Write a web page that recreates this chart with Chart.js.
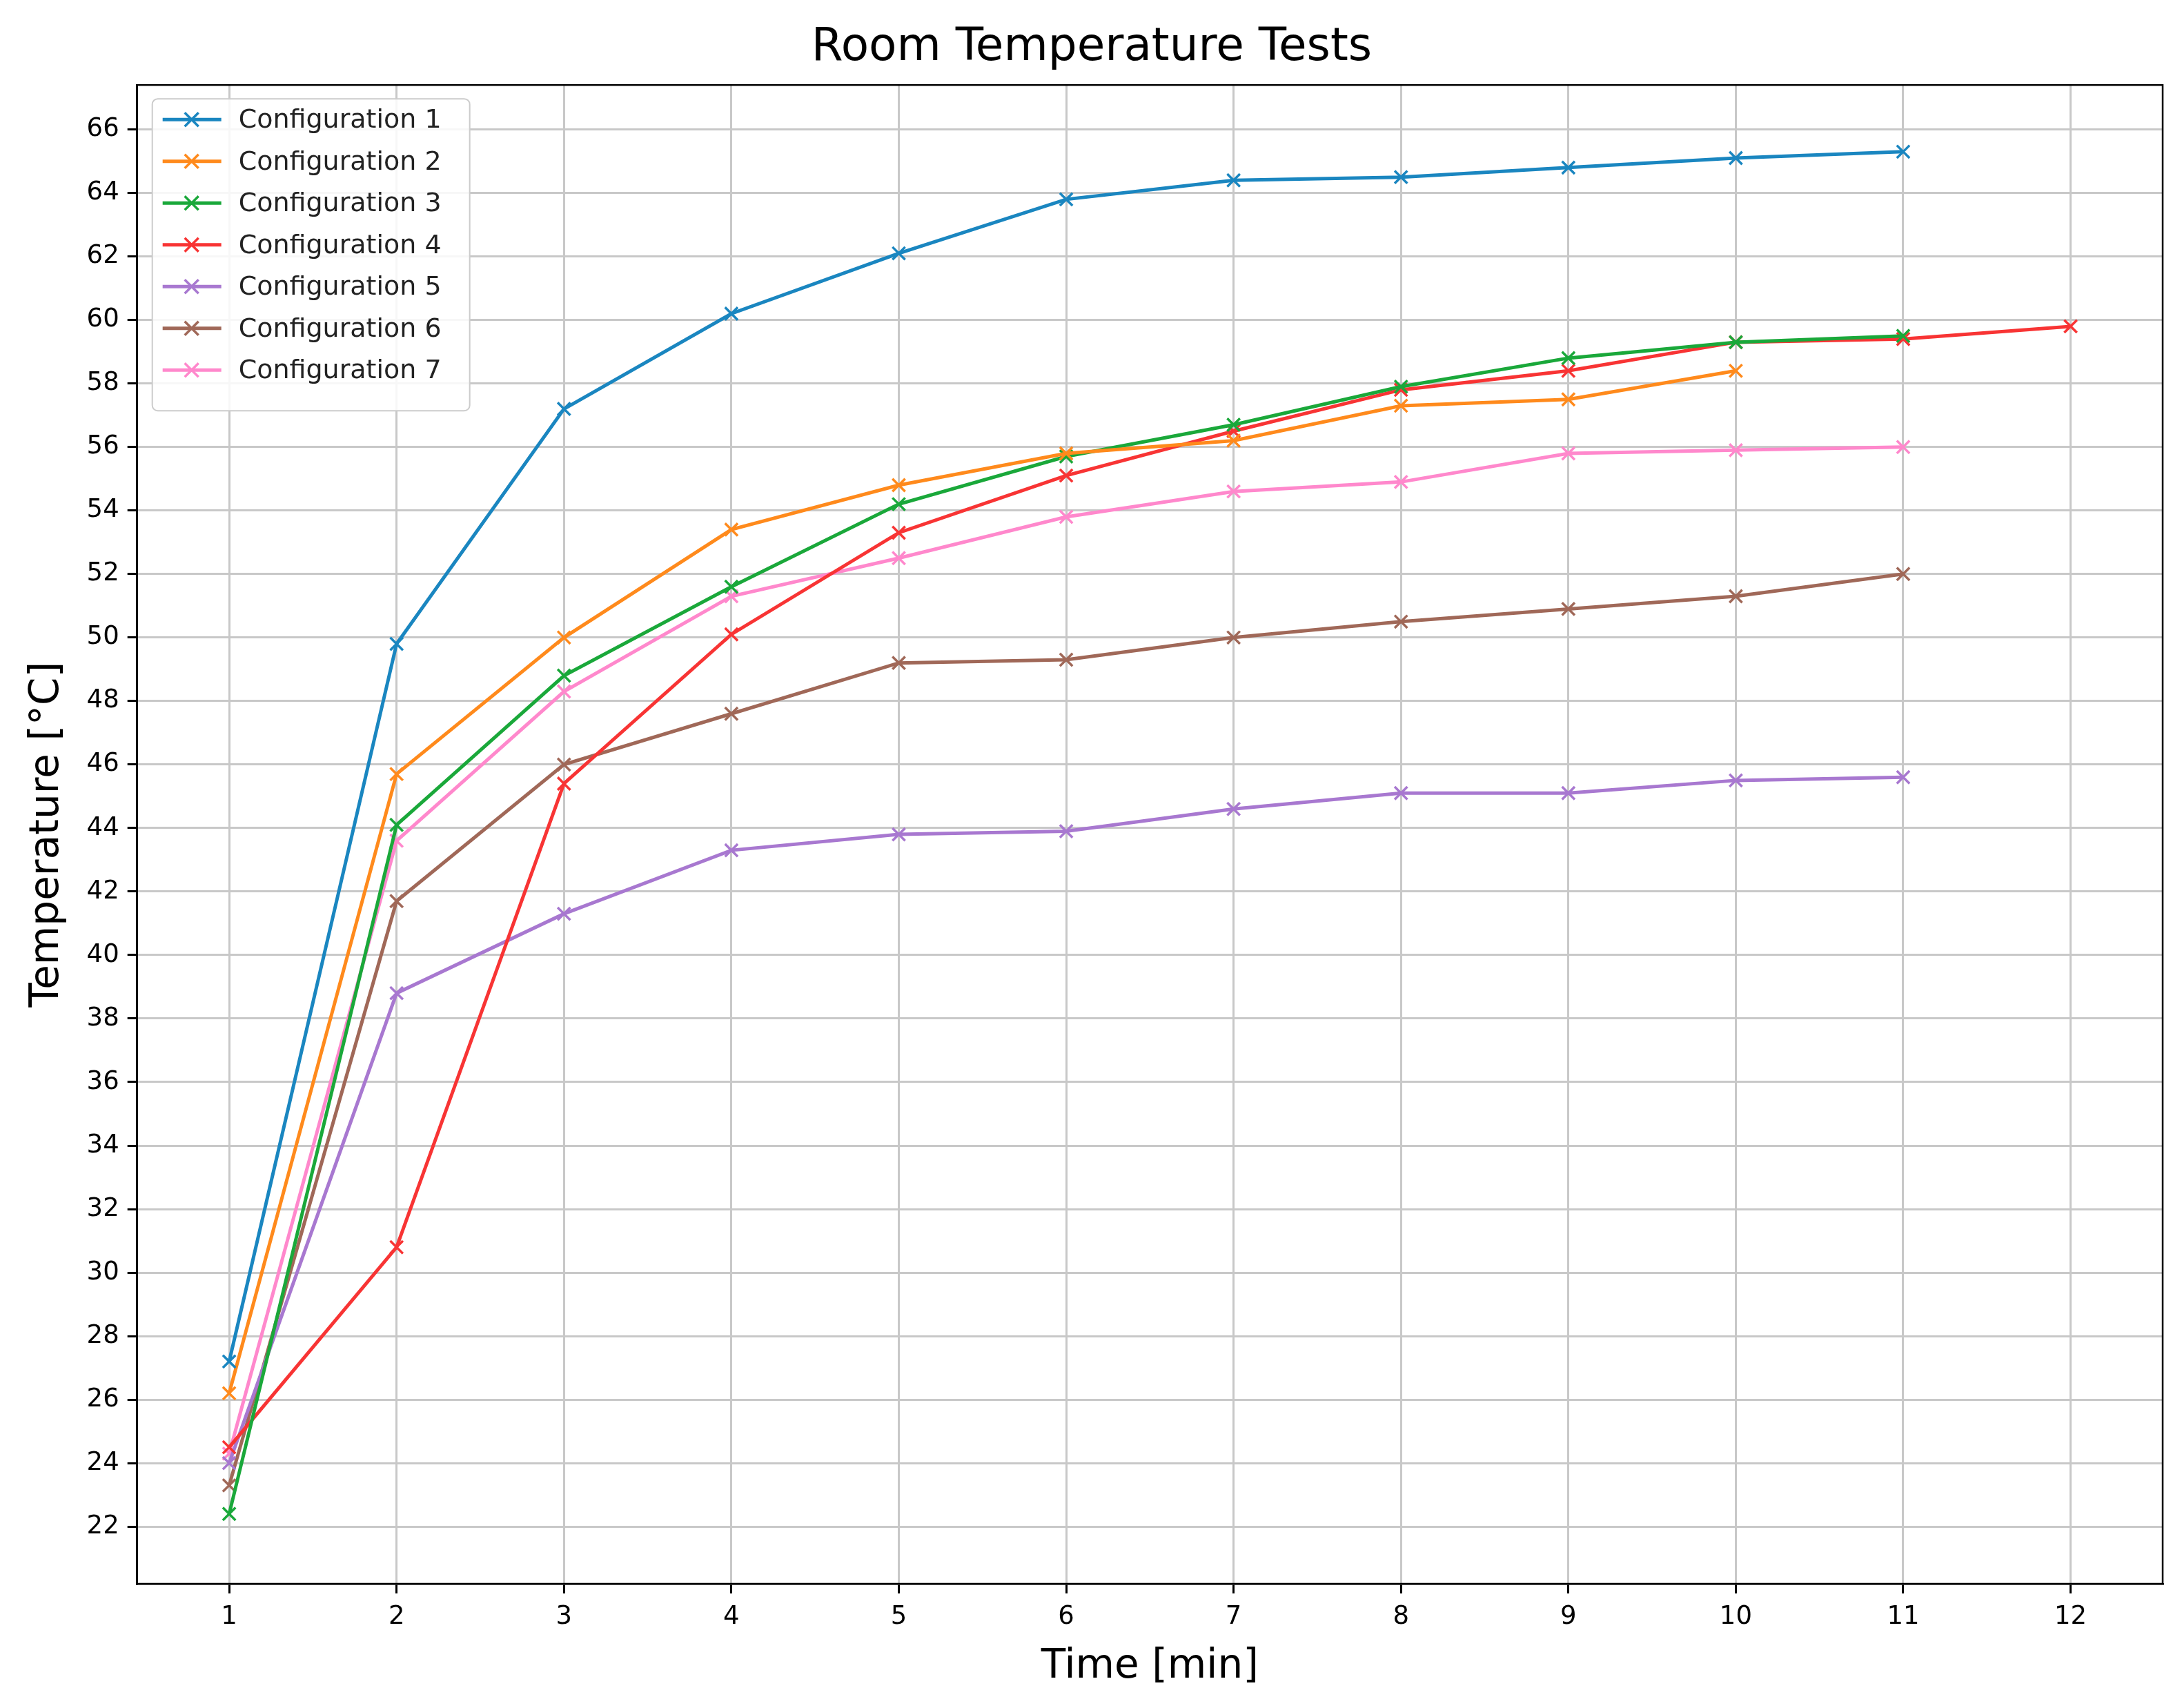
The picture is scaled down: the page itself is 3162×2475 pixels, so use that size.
<!DOCTYPE html>
<html><head><script src="https://cdn.jsdelivr.net/npm/chart.js@4"></script>
<style>html,body{margin:0;background:#fff}#w{width:3162px;height:2475px}</style></head>
<body><div id="w"><canvas id="c"></canvas></div>
<script>
const times=[1,2,3,4,5,6,7,8,9,10,11,12];
const labels=["Configuration 1","Configuration 2","Configuration 3","Configuration 4","Configuration 5","Configuration 6","Configuration 7"];
const c1=[27.2,49.8,57.2,60.2,62.1,63.8,64.4,64.5,64.8,65.1,65.3];
const c2=[26.2,45.7,50.0,53.4,54.8,55.8,56.2,57.3,57.5,58.4];
const c3=[22.4,44.1,48.8,51.6,54.2,55.7,56.7,57.9,58.8,59.3,59.5];
const c4=[24.5,30.8,45.4,50.1,53.3,55.1,56.5,57.8,58.4,59.3,59.4,59.8];
const c5=[24.0,38.8,41.3,43.3,43.8,43.9,44.6,45.1,45.1,45.5,45.6];
const c6=[23.3,41.7,46.0,47.6,49.2,49.3,50.0,50.5,50.9,51.3,52.0];
const c7=[24.3,43.6,48.3,51.3,52.5,53.8,54.6,54.9,55.8,55.9,56.0];
const yTicks=[22,24,26,28,30,32,34,36,38,40,42,44,46,48,50,52,54,56,58,60,62,64,66];
const colors=["#1a86c0","#ff8a1c","#1aa83a","#f83434","#a878d0","#a06858","#ff88cc"];
const series=[c1,c2,c3,c4,c5,c6,c7];
const datasets=series.map((s,i)=>({label:labels[i],data:s.map((v,j)=>({x:times[j],y:v})),borderColor:colors[i],backgroundColor:colors[i],borderWidth:5,pointStyle:'crossRot',pointRadius:13,pointBorderWidth:3.5,tension:0}));
const legendPlugin={id:'lg',afterDraw(ch){const a=ch.chartArea,ctx=ch.ctx;ctx.save();ctx.strokeStyle='#000';ctx.lineWidth=2.5;ctx.strokeRect(a.left,a.top,a.right-a.left,a.bottom-a.top);const bx=a.left+22,by=a.top+20,bw=460,bh=452;ctx.fillStyle='rgba(255,255,255,0.85)';ctx.strokeStyle='#ccc';ctx.lineWidth=2;ctx.beginPath();ctx.roundRect(bx,by,bw,bh,8);ctx.fill();ctx.stroke();ctx.font='38px "DejaVu Sans"';ctx.textBaseline='middle';labels.forEach((l,i)=>{const y=by+30+i*60.5;ctx.strokeStyle=colors[i];ctx.lineWidth=5;ctx.beginPath();ctx.moveTo(bx+15,y);ctx.lineTo(bx+100,y);ctx.stroke();ctx.lineWidth=3.5;const m=bx+57,r=10;ctx.beginPath();ctx.moveTo(m-r,y-r);ctx.lineTo(m+r,y+r);ctx.moveTo(m-r,y+r);ctx.lineTo(m+r,y-r);ctx.stroke();ctx.fillStyle='#222';ctx.fillText(l,bx+125,y+2);});ctx.restore();}};
new Chart(document.getElementById('c'),{type:'line',data:{datasets},plugins:[legendPlugin],options:{responsive:true,maintainAspectRatio:false,animation:false,
layout:{padding:{left:30,right:28,top:10,bottom:20}},
plugins:{legend:{display:false},title:{display:true,text:'Room Temperature Tests',font:{size:66,family:'DejaVu Sans',weight:'normal'},color:'#000',padding:{top:20,bottom:14}}},
scales:{x:{type:'linear',min:0.45,max:12.55,afterBuildTicks:s=>{s.ticks=times.map(v=>({value:v}))},ticks:{font:{size:37,family:'DejaVu Sans'},color:'#000',padding:12},grid:{color:'#c8c8c8',lineWidth:3,tickLength:14,tickColor:'#000'},border:{color:'#000',width:2.5},title:{display:true,text:'Time [min]',font:{size:58,family:'DejaVu Sans'},color:'#000',padding:{top:4}}},
y:{min:20.2,max:67.4,afterBuildTicks:s=>{s.ticks=yTicks.map(v=>({value:v}))},ticks:{font:{size:37,family:'DejaVu Sans'},color:'#000',padding:12},grid:{color:'#c8c8c8',lineWidth:3,tickLength:14,tickColor:'#000'},border:{color:'#000',width:2.5},title:{display:true,text:'Temperature [°C]',font:{size:58,family:'DejaVu Sans'},color:'#000',padding:{bottom:10}}}}}});
</script></body></html>
